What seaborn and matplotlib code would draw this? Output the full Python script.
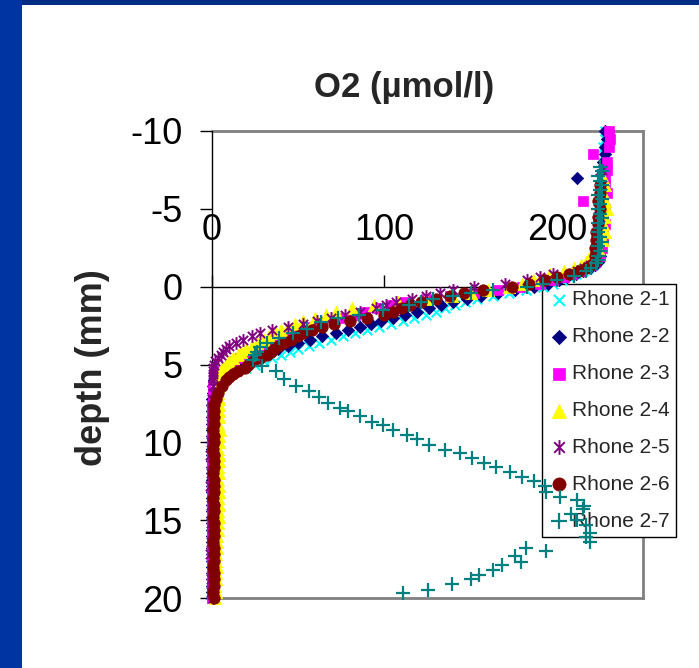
import matplotlib
matplotlib.use("Agg")
import numpy as np
import pandas as pd
import matplotlib.pyplot as plt
import seaborn as sns
from matplotlib.path import Path
from matplotlib.patches import Rectangle

sns.set_style("white")
plt.rcParams["font.family"] = ["Liberation Sans", "DejaVu Sans"]
plt.rcParams["axes.unicode_minus"] = False

nan = float("nan")

# ---------------- data ----------------
series_names = ["Rhone 2-1", "Rhone 2-2", "Rhone 2-3", "Rhone 2-4",
                "Rhone 2-5", "Rhone 2-6", "Rhone 2-7"]

x_ticks = [0, 100, 200]
y_ticks = [-10, -5, 0, 5, 10, 15, 20]

depth_water = [-10.0, -9.5, -9.0, -8.5, -8.0, -7.5, -7.0, -6.5, -6.0, -5.5,
               -5.0, -4.5, -4.0, -3.5, -3.0, -2.5, -2.0]

depth_profile = [-1.6, -1.4, -1.2, -1.0, -0.8, -0.6, -0.4, -0.2, 0.0, 0.2,
                 0.4, 0.6, 0.8, 1.0, 1.2, 1.4, 1.6, 1.8, 2.0, 2.2,
                 2.4, 2.6, 2.8, 3.0, 3.2, 3.4, 3.6, 3.8, 4.0, 4.2,
                 4.4, 4.6, 4.8, 5.0, 5.2, 5.4, 5.6, 5.8, 6.0,
                 6.4, 6.8, 7.2, 7.6, 8.0,
                 8.4, 8.8, 9.2, 9.6, 10.0, 10.4, 10.8, 11.2, 11.6, 12.0,
                 12.4, 12.8, 13.2, 13.6, 14.0, 14.4, 14.8, 15.2, 15.6, 16.0,
                 16.4, 16.8, 17.2, 17.6, 18.0, 18.4, 18.8, 19.2, 19.6, 20.0]

o2_2_1 = ([228, 228, 227, 228, 227, 227, 226, 227, 226, 227, 226, 226, 225, 226, 225, 225, 224]
          + [223, 221, 218, 215, 211, 207, 203, 198, 192, 182, 172, 163, 154, 147, 141, 135, 130, 124,
             117, 111, 104, 97, 90, 83, 76, 69, 62, 56, 50, 45, 40, 35, 30, 25, 20, 14, 8, 4, 2]
          + [0.8, 0.3, 0.2, 0.1, 0.1]
          + [0.0, 0.1, -0.1, 0.0, 0.2, 0.0, -0.2, 0.1, 0.0, -0.1, 0.1, 0.0, 0.0, -0.2, 0.1,
             0.0, 0.1, -0.1, 0.0, 0.2, 0.0, -0.1, 0.0, 0.1, 0.0, -0.1, 0.1, 0.0, -0.2, 0.0])

o2_2_2 = ([228, 229, 228, 228, 227, 228, 212, 227, 227, 226, 227, 226, 226, 225, 226, 225, 225]
          + [224, 222, 219, 215, 211, 206, 201, 195, 187, 176, 166, 156, 148, 140, 133, 126, 119, 112,
             105, 98, 92, 86, 79, 72, 64, 57, 50, 44, 38, 32, 27, 22, 17, 13, 9, 6, 3.5, 2, 1.2]
          + [0.6, 0.3, 0.2, 0.1, 0.1]
          + [0.1, 0.0, 0.2, -0.1, 0.0, 0.1, 0.0, -0.1, 0.2, 0.0, 0.1, -0.2, 0.0, 0.1, 0.0,
             -0.1, 0.2, 0.0, 0.1, 0.0, -0.1, 0.0, 0.2, 0.0, 0.1, -0.1, 0.0, 0.1, 0.0, -0.1])

o2_2_3 = ([230, 231, 230, 221, 229, 229, 228, 228, 229, 215, 228, 227, 228, 227, 227, 226, 225]
          + [222, 220, 217, 213, 209, 204, 198, 190, 180, 166, 152, 138, 124, 112, 104, 96, 89, 83,
             77, 71, 64, 58, 53, 49, 44, 39, 35, 30, 26, 22, 19, 16, 13, 10.5, 8, 6, 4, 2.5, 1.5]
          + [0.8, 0.4, 0.3, 0.2, 0.2]
          + [0.2, 0.1, 0.3, 0.0, 0.2, 0.1, -0.1, 0.2, 0.0, 0.1, 0.3, 0.0, 0.1, -0.1, 0.2,
             0.0, 0.1, 0.2, -0.1, 0.0, 0.1, 0.2, 0.0, -0.1, 0.1, 0.0, 0.2, 0.1, 0.0, 0.1])

o2_2_4 = ([nan, nan, nan, nan, nan, nan, 227, 228, 227, 228, 229, 228, 227, 228, 227, 224, 219]
          + [217, 214, 210, 204, 196, 190, 186, 180, 172, 160, 150, 139, 124, 108, 94, 81, 72, 66,
             60, 53, 48, 44, 40, 37, 33, 30, 26, 23, 20, 17, 15, 12, 10, 8, 6, 4.5, 3.5, 3, 2.8]
          + [3.2, 3.5, 4.0, 3.8, 4.2]
          + [4.0, 3.6, 4.4, 3.8, 4.1, 3.5, 4.3, 3.9, 3.7, 4.2, 3.4, 4.0, 3.8, 3.3, 4.1,
             3.6, 3.9, 3.2, 3.5, 3.0, 2.8, 3.1, 2.6, 2.4, 2.9, 2.2, 2.5, 2.0, 2.3, 1.8])

o2_2_5 = ([nan, nan, nan, nan, nan, 226, 225, 226, 225, 225, 224, 225, 224, 224, 223, 223, 222]
          + [222, 219, 216, 212, 198, 190, 183, 170, 152, 140, 132, 124, 116, 107, 101, 95, 86, 77,
             69, 61, 53, 44, 35, 28, 23, 18, 14, 10, 8, 6.5, 5, 3.5, 2, 1, 0.8, 0.5, 0.6, 0.4, 0.5]
          + [0.3, 0.6, -0.2, 0.4, 0.1]
          + [0.5, -0.8, 1.2, 0.2, -0.5, 0.9, -1.0, 0.4, 1.3, -0.3, 0.7, -0.9, 0.2, 1.1, -0.6,
             0.3, 0.8, -0.7, 1.4, 0.0, -0.4, 0.9, -1.1, 0.6, 0.2, 1.0, -0.5, 0.4, -0.8, 0.7])

o2_2_6 = ([nan, nan, nan, nan, nan, nan, nan, 225, 225, 224, 225, 224, 224, 223, 223, 222, 222]
          + [222, 220, 217, 213, 207, 200, 193, 184, 174, 157, 146, 138, 130, 121, 115, 110, 105, 100,
             90, 80, 71, 64, 58, 53, 50, 46, 42, 38, 36, 34, 32, 28, 24, 21, 19, 15, 12, 10, 8]
          + [6, 3.5, 2.2, 1.4, 1.0]
          + [0.9, 1.0, 0.8, 1.1, 0.9, 0.8, 1.0, 1.2, 0.9, 0.8, 1.0, 0.9, 1.1, 0.8, 0.9,
             1.0, 0.8, 1.1, 0.9, 1.0, 0.8, 0.9, 1.1, 1.0, 0.8, 0.9, 1.0, 0.9, 0.8, 1.0])

depth_2_7 = [-7.7, -7.4, -7.1, -6.8, -6.5, -6.2, -5.9, -5.6, -5.3, -5.0, -4.7, -4.4, -4.1,
             -3.8, -3.5, -3.2, -2.9, -2.6, -2.3, -2.0, -1.7,
             -1.5, -1.2, -1.0, -0.7, -0.4, -0.2, 0.0,
             0.2, 0.4, 0.6, 0.8, 1.0, 1.2,
             1.5, 1.8, 2.0, 2.3, 2.7, 3.0, 3.3, 3.6, 3.9, 4.2, 4.4, 4.7,
             5.1, 5.4, 5.9, 6.4, 6.7, 7.1, 7.5, 7.8, 8.0, 8.3, 8.7, 8.9, 9.2, 9.5, 9.8,
             10.2, 10.5, 10.7, 11.0, 11.3, 11.6, 11.9, 12.2, 12.5, 12.8,
             13.2, 13.5, 13.7, 14.1, 14.3, 14.6, 15.0, 15.3, 15.8, 16.1, 16.4,
             16.8, 17.0, 17.3, 17.7, 17.9, 18.2, 18.5, 18.8, 19.1, 19.5, 19.7]

o2_2_7 = [225, 226, 224, 225, 226, 225, 224, 226, 225, 224, 225, 226, 224,
          225, 224, 225, 226, 224, 225, 224, 224,
          223, 220, 217, 210, 200, 192, 183,
          163, 150, 140, 128, 121, 114,
          99, 85, 73, 63, 55, 47, 39, 32, 28, 26, 25, 24,
          29, 37, 42, 49, 56, 62, 67, 74, 79, 86, 93, 99, 105, 113, 119,
          126, 135, 144, 151, 158, 165, 173, 180, 187, 193,
          194, 202, 212, 216, 215, 208, 212, 217, 219, 217, 219,
          182, 194, 176, 179, 168, 163, 155, 150, 139, 125, 111]

# ---------------- build long table ----------------
depth_std = depth_water + depth_profile
frames = []
for name, vals in zip(series_names[:6], [o2_2_1, o2_2_2, o2_2_3, o2_2_4, o2_2_5, o2_2_6]):
    frames.append(pd.DataFrame({"series": name, "depth": depth_std, "o2": vals}))
frames.append(pd.DataFrame({"series": series_names[6], "depth": depth_2_7, "o2": o2_2_7}))
df = pd.concat(frames, ignore_index=True).dropna()

# ---------------- styles ----------------
star = Path([(0, -1), (0, 1), (-0.72, -0.72), (0.72, 0.72), (-0.72, 0.72), (0.72, -0.72)],
            [Path.MOVETO, Path.LINETO, Path.MOVETO, Path.LINETO, Path.MOVETO, Path.LINETO])
styles = {
    "Rhone 2-1": dict(color="#00FFFF", marker="x", s=48, linewidth=1.5),
    "Rhone 2-2": dict(color="#000080", marker="D", s=40, edgecolor="#000080", linewidth=0.5),
    "Rhone 2-3": dict(color="#FF00FF", marker="s", s=48, edgecolor="#FF00FF", linewidth=0.5),
    "Rhone 2-4": dict(color="#FFFF00", marker="^", s=80, edgecolor="#FFFF00", linewidth=0.5),
    "Rhone 2-5": dict(color="#800080", marker=star, s=85, edgecolor="#800080", linewidth=1.4),
    "Rhone 2-6": dict(color="#800000", marker="o", s=68, edgecolor="#800000", linewidth=0.5),
    "Rhone 2-7": dict(color="#008080", marker="+", s=90, linewidth=1.6),
}

fig = plt.figure(figsize=(6.99, 6.68), dpi=100)
fig.patch.set_facecolor("white")
fig.add_artist(Rectangle((0, 1 - 5 / 668), 1, 5 / 668, transform=fig.transFigure,
                         facecolor="#002C84", edgecolor="none", zorder=0))
fig.add_artist(Rectangle((0, 0), 22 / 699, 1, transform=fig.transFigure,
                         facecolor="#0034A2", edgecolor="none", zorder=0))

ax = fig.add_axes([212 / 699, 1 - 598 / 668, (643 - 212) / 699, (598 - 131) / 668])

for name in series_names:
    sub = df[df["series"] == name]
    sns.scatterplot(data=sub, x="o2", y="depth", ax=ax, label=name, clip_on=False,
                    zorder=3, **styles[name])

ax.set_xlim(0, 250)
ax.set_ylim(20, -10)
ax.set_xticks(x_ticks)
ax.set_yticks(y_ticks)
ax.set_xlabel("")
ax.set_ylabel("")
ax.grid(False)

ax.spines["top"].set_position(("data", 0))
ax.spines["top"].set_color("black")
ax.spines["top"].set_linewidth(1)
ax.spines["left"].set_color("black")
ax.spines["left"].set_linewidth(1)
for sp in ["bottom", "right"]:
    ax.spines[sp].set_color("#808080")
    ax.spines[sp].set_linewidth(2)
ax.axhline(-10, color="#808080", lw=2, clip_on=False, zorder=0.5)

ax.xaxis.set_ticks_position("top")
ax.tick_params(axis="x", direction="out", length=9, width=1, pad=19,
               labelsize=26, colors="black")
ax.tick_params(axis="y", direction="out", length=9, width=1, pad=12,
               labelsize=26, colors="black", left=True)

fig.text(404 / 699, 1 - 88 / 668, "O2 (µmol/l)", ha="center", va="center",
         fontsize=25, fontweight="bold")
fig.text(93 / 699, 1 - 368 / 668, "depth (mm)", rotation=90, ha="center", va="center",
         fontsize=26, fontweight="bold")

leg = ax.legend(loc="upper left", bbox_to_anchor=(542 / 699, 1 - 284 / 668),
                bbox_transform=fig.transFigure, borderaxespad=0, fontsize=15,
                frameon=True, fancybox=False, framealpha=1, edgecolor="black",
                borderpad=0.3, labelspacing=0.86, handlelength=1.0, handletextpad=0.15,
                scatterpoints=1, markerscale=1.15)
leg.get_frame().set_linewidth(1)
leg.set_zorder(2.6)

fig.savefig("out.png", dpi=100, facecolor="white")
